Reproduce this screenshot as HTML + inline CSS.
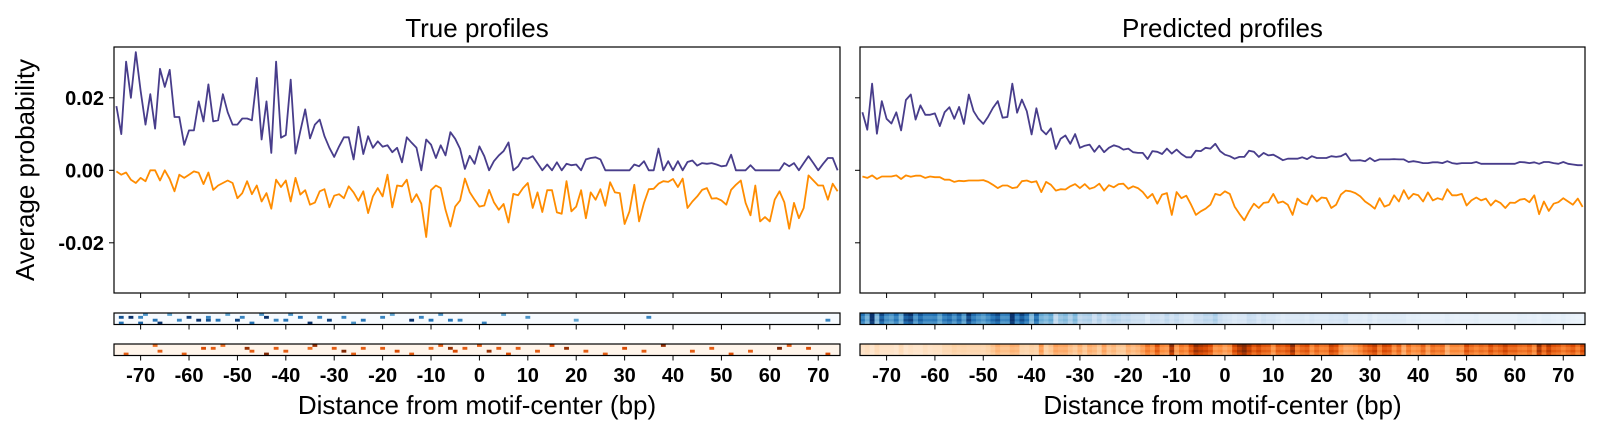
<!DOCTYPE html>
<html><head><meta charset="utf-8"><style>
html,body{margin:0;padding:0;background:#fff;}
svg{display:block;font-family:"Liberation Sans",sans-serif;}
</style></head><body>
<svg id="chart" width="1600" height="436" viewBox="0 0 1600 436"></svg>
<script>
// ---- data (values in probability x 1000) ----
const bpStart = -75;
const xTicks = [-70,-60,-50,-40,-30,-20,-10,0,10,20,30,40,50,60,70];
const yTicks = [0.02, 0.00, -0.02];
const yTickLabels = ["0.02","0.00","-0.02"];
const trueBlue = [17.7,10,30,20,32.6,22,12.6,21,11.5,28,23,27.7,14.7,14.7,7,11,11,19,13.5,23.7,13.5,13.8,21,16,12.6,12.6,14.3,14.3,13.8,25.5,8.5,19,4.8,30,9,9.7,25,4.6,10.8,16.8,8.8,12.6,14,9.4,6.2,3.7,6.6,9.1,9.1,3,12,4.5,9.4,6.2,8,6.5,6.9,5,6.2,2.2,9.1,7.6,6.2,0,8.5,7.1,3.4,6.9,4.1,10.5,8.7,5.9,0.4,4,1.8,6.6,3.9,0,2.5,
4.1,5.3,7.7,0,1.1,3.4,3.2,3.9,2,0,1.6,0,2.2,0,1.8,1.4,1.6,0,3,3.4,3.6,3,0,0,0,0,0,0,1.6,1.1,2.5,0,0,6,0,2.5,0,2.5,0,2.3,2.7,1.3,2,1.8,2,1.6,1.1,1.3,4.3,0,0,0,1.4,0,0,0,0,0,0,2,1.1,2,0,2,3.9,2,0,1.8,3.4,3.4,0];
const trueOrange = [-0.3,-1.2,-0.6,-2.6,-3.5,-2.1,-3,0,0,-2.8,0,-2.4,-5.8,-1.2,-2.1,-1.2,-0.3,-0.7,-3.8,-0.6,-5.4,-4.2,-3.5,-2.8,-3.5,-7.7,-6.3,-3,-6.6,-4.2,-8.6,-6.3,-10.6,-2.6,-4.6,-2.8,-8.6,-2.1,-6.7,-5.5,-9.5,-8.9,-5.8,-5.2,-10.2,-7,-6.6,-7.7,-4.4,-6.1,-8.4,-5.8,-11.8,-7.2,-4.9,-7.2,-1.2,-10.2,-4.2,-4.4,-2.6,-8.8,-6.6,-9.2,-18.4,-5.5,-4.2,-4.9,-10.9,-15.5,-10,-8.3,-2.3,-6,-8.1,-10,-9.7,-5.4,-8.8,
-10.9,-9.3,-14.4,-6.5,-6.9,-4.9,-3.5,-10.4,-6.1,-11.5,-5.5,-5.5,-11.6,-12,-3,-11.3,-10,-5.5,-13.2,-6.1,-8.1,-5.2,-9.8,-3.3,-6.1,-6.3,-14.8,-11.3,-4,-14.1,-9,-5.2,-5.1,-3.7,-3,-3.2,-2.4,-4.6,-2.3,-10.4,-8.6,-7.2,-5.4,-4.9,-7.8,-7.7,-8.3,-9.5,-5.4,-4,-2.8,-9,-12.4,-4.2,-14.1,-12.9,-14.1,-8.1,-5.8,-8.8,-16.1,-9,-13.2,-10.4,-1.4,-2.8,-4.2,-4.2,-8.1,-3.7,-5.8];
const predBlue = [16,11.2,23.9,10.1,19.1,14.2,12.9,16,11,19.4,20.9,14,17.9,15.3,15.3,15.7,12.2,16,17.4,14.2,17.5,12.8,20.9,16.3,14.2,12.8,14.8,17.2,19.1,14.5,14.7,23.9,15.9,19.5,16.3,9.9,17.1,11.2,9.9,11.6,5.9,8.7,9.6,7.3,10,6.2,6.8,7.1,5.1,6.8,5,6.2,6.9,6.5,5.7,6,5,4.8,4.8,3.1,5.3,5.1,4.5,6,4.6,5.7,4.5,3.6,3.6,5.4,
5.3,6.2,6,7.3,5.3,4.3,3.9,3.2,3.7,3.7,5.4,5.1,3.7,4.8,4.1,4.3,3.6,2.8,3.2,3.2,3.2,3.6,3.1,3.9,3.4,3.4,3.4,3.9,3.7,3.9,4.6,2.7,2.7,2.8,2.5,3.4,2.5,3,3,3,3.1,3,3,2.3,2.5,2.3,2,2,2.2,2.2,2,2.5,2,1.8,2,2,2,2.3,1.8,1.8,1.8,1.8,1.8,1.8,1.8,1.8,2.3,2.2,2,2.2,1.8,2.3,2.3,2,1.8,2.3,1.8,1.6,1.4,1.4];
const predOrange = [-1.7,-2.1,-1.4,-2.4,-1.7,-1.7,-1.7,-1.4,-2.4,-1.4,-1.8,-1.5,-1.5,-2.1,-1.7,-1.9,-1.9,-2.6,-2.6,-3.2,-2.9,-3,-2.8,-2.8,-2.8,-2.7,-3.2,-4,-4.9,-4.2,-4.2,-4.9,-4.7,-3,-2.8,-3.3,-3,-6,-3.2,-4,-5.6,-5.2,-5.3,-4.4,-3.8,-4.9,-3.8,-5.1,-4.7,-3.7,-5.6,-4.1,-4.7,-3.8,-3.7,-5.1,-4.4,-4.9,-6,-7.7,-6.5,-9.2,-6.7,-6.3,-12.3,-6,-7.7,-7,-9.5,-12.3,
-11.3,-10.6,-9.5,-6.5,-6.9,-5.8,-6.5,-10,-12,-13.8,-11.3,-9.2,-10.4,-9,-8.8,-6.5,-9,-8.6,-9.5,-12.3,-7.8,-9,-9.5,-6.9,-8.6,-7.5,-7.7,-10.4,-9.5,-6.7,-5.6,-5.8,-6.3,-7.2,-8.6,-9.5,-10.6,-7.7,-10,-9.5,-6.9,-8.6,-5.5,-7.9,-6.5,-6.9,-8.6,-6.1,-8.3,-7.7,-8.1,-5.2,-6.9,-6.9,-6.5,-9.7,-8.3,-7.5,-8.3,-7.8,-9.7,-8.3,-9,-10.4,-8.9,-9,-8.1,-7.9,-8.8,-6.9,-12.1,-8.6,-11.2,-9.2,-8.8,-7.7,-8.6,-9.5,-7.8,-10.1];
// sparse observed-count heatmap cells
const hbBp  = [-74,-74,-72,-70,-70,-69,-67,-66,-64,-62,-60,-58,-56,-56,-54,-52,-50,-49,-47,-45,-44,-42,-40,-39,-37,-35,-33,-31,-28,-26,-24,-20,-18,-14,-12,-10,-8,-6,-4,1,5,10,20,35,72];
const hbRow = [1,3,1,1,3,0,2,3,0,2,1,2,1,2,2,0,2,1,3,0,1,2,2,0,1,3,1,2,1,3,2,1,0,2,1,2,0,2,2,3,0,1,2,1,2];
const hbVal = [0.8,0.6,1,0.5,0.7,0.4,0.6,1,0.3,0.5,0.9,1,0.5,0.8,0.6,0.3,0.9,0.5,0.6,0.4,1,0.5,0.6,0.4,0.6,1,0.5,0.9,0.5,0.4,0.6,0.5,0.3,1,0.5,0.6,0.4,0.6,0.5,0.5,0.3,0.4,0.3,0.5,0.5];
const hoBp  = [-73,-67,-66,-61,-57,-55,-53,-48,-47,-44,-42,-40,-35,-34,-30,-28,-26,-24,-20,-17,-14,-10,-8,-6,-5,-3,0,2,4,6,8,12,15,18,22,26,30,34,38,44,48,52,56,62,64,68,72];
const hoRow = [3,0,2,3,1,1,0,1,2,3,1,2,1,0,1,2,3,1,1,2,3,1,0,1,2,1,0,2,1,3,1,2,0,1,2,3,1,2,0,2,1,3,2,1,0,1,3];
const hoVal = [0.5,0.4,0.5,0.5,0.6,0.5,0.4,0.9,0.5,1,0.5,0.5,0.4,0.9,0.5,1,0.5,0.5,0.5,0.6,0.5,0.4,0.5,0.9,0.6,0.5,0.5,0.9,0.5,0.6,0.5,0.5,0.6,0.9,0.5,0.5,0.6,0.5,0.9,0.5,0.5,0.6,0.5,1,0.5,0.6,0.6];
const predRowFactor = [1.1, 0.95, 1.05, 0.9];

// ---- layout ----
const NS = "http://www.w3.org/2000/svg";
const svg = document.getElementById('chart');
const panels = [{x0:114,x1:840,name:'true'},{x0:860,x1:1585,name:'predicted'}];
const axTop = 47, axBot = 293, y0px = 170.3, pxPerUnit = 3625;
const hm1 = [313, 324.5], hm2 = [344, 355.5];
function xs(p, bp){ return p.x0 + (bp + 75.5) * (p.x1 - p.x0) / 150; }
function ys(v){ return y0px - v * pxPerUnit; }
function el(tag, attrs, parent){ const e = document.createElementNS(NS, tag); for (const k in attrs) e.setAttribute(k, attrs[k]); (parent||svg).appendChild(e); return e; }
function lerpMap(stops, t){ t=Math.max(0,Math.min(1,t)); const n=stops.length-1; const i=Math.min(n-1,Math.floor(t*n)); const f=t*n-i; const a=stops[i],b=stops[i+1]; return 'rgb('+a.map((c,k)=>Math.round(c+(b[k]-c)*f)).join(',')+')'; }
const BLUES=[[247,251,255],[198,219,239],[107,174,214],[33,113,181],[8,48,107]];
const ORANGES=[[255,245,235],[253,208,162],[253,141,60],[217,72,1],[127,39,4]];

function drawLine(p, arr, color, name){
  const pts = arr.map((v,i)=> xs(p, bpStart+i).toFixed(1)+','+ys(v/1000).toFixed(1)).join(' ');
  const l = el('polyline', {points:pts, fill:'none', stroke:color, 'stroke-width':1.8, 'stroke-linejoin':'round'});
  
  
}
function hmFrame(p, band, bg, name){
  const g = el('g', {});
  
  
  el('rect', {x:p.x0, y:band[0], width:p.x1-p.x0, height:band[1]-band[0], fill:bg}, g);
  return g;
}
function hmBorder(p, band){ el('rect', {x:p.x0, y:band[0], width:p.x1-p.x0, height:band[1]-band[0], fill:'none', stroke:'#000', 'stroke-width':1.2}); }
function xTickMarks(p, yBase){
  xTicks.forEach(t=>{ const x=xs(p,t); el('line',{x1:x,x2:x,y1:yBase,y2:yBase+5,stroke:'#000','stroke-width':1}); });
}

panels.forEach((p,pi)=>{
  const ax = el('rect',{x:p.x0,y:axTop,width:p.x1-p.x0,height:axBot-axTop,fill:'none',stroke:'#000','stroke-width':1.2});
  
  
  const title = el('text',{x:(p.x0+p.x1)/2,y:37,'text-anchor':'middle','font-size':26,fill:'#000'});
  title.textContent = pi===0 ? 'True profiles' : 'Predicted profiles';
  
  
  yTicks.forEach((t,i)=>{
    const y = ys(t);
    el('line',{x1:p.x0-5,x2:p.x0,y1:y,y2:y,stroke:'#000','stroke-width':1});
    if(pi===0){
      const tl = el('text',{x:104,y:y+7,'text-anchor':'end','font-size':20,'font-weight':'bold',fill:'#000'});
      tl.textContent = yTickLabels[i];
      
      
    }
  });
  const blue = pi===0 ? trueBlue : predBlue;
  const orange = pi===0 ? trueOrange : predOrange;
  drawLine(p, blue, '#483d8b', p.name+'-positive-strand-line');
  drawLine(p, orange, '#ff8c00', p.name+'-negative-strand-line');
  xTickMarks(p, axBot);

  const g1 = hmFrame(p, hm1, '#f7fbff', p.name+'-positive-heatmap');
  const g2 = hmFrame(p, hm2, '#fff5eb', p.name+'-negative-heatmap');
  const rows = 4, rh1=(hm1[1]-hm1[0])/rows, rh2=(hm2[1]-hm2[0])/rows;
  const cw = (p.x1-p.x0)/150;
  if(pi===0){
    hbBp.forEach((b,i)=>{ el('rect',{x:xs(p,b-0.5),y:hm1[0]+hbRow[i]*rh1,width:cw,height:rh1,fill:lerpMap(BLUES,0.35+0.65*hbVal[i])},g1); });
    hoBp.forEach((b,i)=>{ el('rect',{x:xs(p,b-0.5),y:hm2[0]+hoRow[i]*rh2,width:cw,height:rh2,fill:lerpMap(ORANGES,0.35+0.65*hoVal[i])},g2); });
  } else {
    predBlue.forEach((v,i)=>{ predRowFactor.forEach((f,r)=>{
      el('rect',{x:xs(p,bpStart+i-0.5),y:hm1[0]+r*rh1,width:cw+0.3,height:rh1+0.2,fill:lerpMap(BLUES,v*f/23)},g1); }); });
    predOrange.forEach((v,i)=>{ predRowFactor.forEach((f,r)=>{
      el('rect',{x:xs(p,bpStart+i-0.5),y:hm2[0]+r*rh2,width:cw+0.3,height:rh2+0.2,fill:lerpMap(ORANGES,-v*f/14)},g2); }); });
  }
  hmBorder(p, hm1); hmBorder(p, hm2);
  xTickMarks(p, hm1[1]); xTickMarks(p, hm2[1]);
  xTicks.forEach(t=>{
    const tl = el('text',{x:xs(p,t),y:382,'text-anchor':'middle','font-size':20,'font-weight':'bold',fill:'#000'});
    tl.textContent = String(t);
    
    
  });
  const xl = el('text',{x:(p.x0+p.x1)/2,y:414,'text-anchor':'middle','font-size':26,fill:'#000'});
  xl.textContent = 'Distance from motif-center (bp)';
  
  
});
const yl = el('text',{x:0,y:0,'text-anchor':'middle','font-size':26,fill:'#000',transform:'translate(34,170) rotate(-90)'});
yl.textContent = 'Average probability';


</script>
</body></html>
